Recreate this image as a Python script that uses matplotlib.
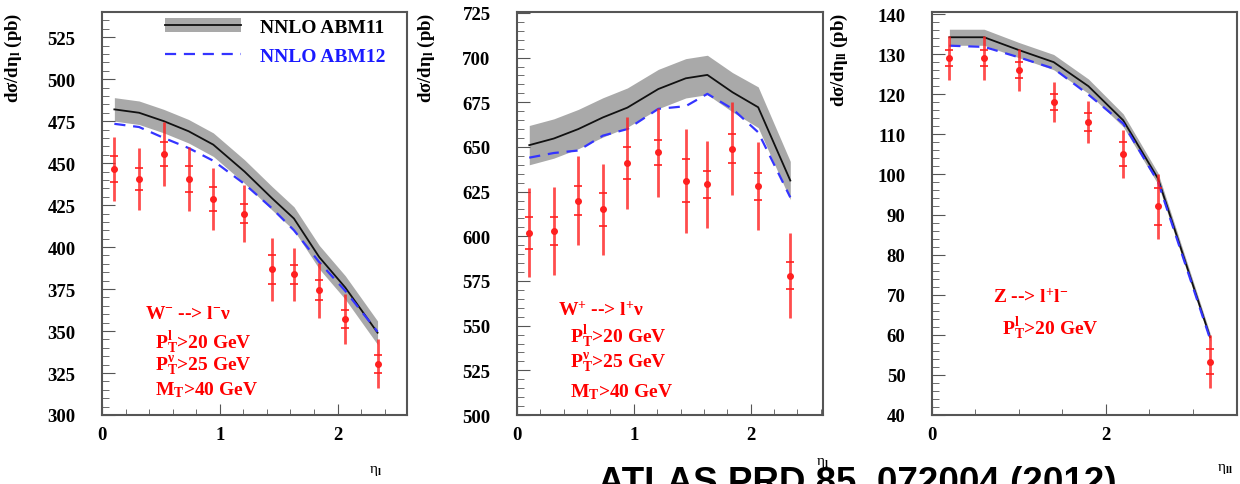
import numpy as np
import matplotlib
matplotlib.use('Agg')
import matplotlib.pyplot as plt
from matplotlib.patches import Patch
from matplotlib.lines import Line2D
from matplotlib.ticker import MultipleLocator

plt.rcParams['font.family'] = 'Liberation Serif'
plt.rcParams['font.weight'] = 'bold'
plt.rcParams['axes.labelweight'] = 'bold'
plt.rcParams['mathtext.fontset'] = 'custom'
plt.rcParams['mathtext.rm'] = 'Liberation Serif:bold'
plt.rcParams['mathtext.it'] = 'Liberation Serif:bold'
plt.rcParams['mathtext.bf'] = 'Liberation Serif:bold'
plt.rcParams['mathtext.default'] = 'rm'

# W- -> l- nu  (lepton pseudorapidity bins)
wm_eta = [0.105, 0.315, 0.525, 0.735, 0.945, 1.21, 1.445, 1.63, 1.845, 2.065, 2.34]
wm_data = [446.5, 440.5, 455.5, 440.5, 428.5, 420, 386.7, 383.7, 374.4, 357, 330.6]
wm_stat = [7.5, 6.7, 7, 7.5, 7.2, 5.5, 8.5, 5.7, 5.9, 5.3, 5.4]
wm_tot = [19, 18.6, 19, 19, 18.3, 17, 19, 16, 16.4, 15, 14.7]
wm_abm11 = [482, 480, 475, 469, 461, 445, 429, 417, 394, 376, 349]
wm_abm11_err = [7, 7, 7, 7, 7, 7, 7, 7, 7, 7, 7]
wm_abm12 = [473.4, 471.5, 465, 459, 451.4, 437.6, 423, 410, 391, 374, 349.6]

# W+ -> l+ nu
wp_eta = [0.105, 0.315, 0.525, 0.735, 0.945, 1.21, 1.445, 1.63, 1.845, 2.065, 2.34]
wp_data = [602, 603, 620, 615, 641, 647, 631, 629, 649, 628, 578]
wp_stat = [9, 8, 8, 9, 9, 7, 12, 7.5, 8, 7.6, 7.6]
wp_tot = [25, 24.7, 24.7, 25.5, 26, 25, 29, 24.5, 26, 24.7, 24]
wp_abm11 = [651, 654.7, 660, 666.5, 672, 682.4, 688.4, 690.3, 680.6, 672.2, 631.2]
wp_abm11_err = [11, 11, 11, 11, 11, 11, 11, 11, 11, 11.4, 10.7]
wp_abm12 = [644, 646.6, 648, 656.3, 660, 671.3, 672.8, 679.7, 671.3, 658.2, 621.8]

# Z -> l+ l-  (boson rapidity bins)
z_eta = [0.2, 0.6, 1.0, 1.4, 1.8, 2.2, 2.6, 3.2]
z_data = [129.1, 129.1, 126, 118, 113, 105, 92, 53.3]
z_stat = [2, 2, 2, 2, 2.2, 3, 4.6, 3.2]
z_tot = [5.5, 5.5, 5.3, 5, 5.2, 6, 8, 6.6]
z_abm11 = [134.2, 134.2, 131, 128, 122, 113.5, 99, 59.4]
z_abm11_err = [2, 2, 1.9, 1.9, 1.8, 1.6, 1.4, 1]
z_abm12 = [132.1, 131.8, 129.2, 126.4, 119.9, 112.7, 98.2, 59]

BAND = '#a9a9a9'
BLUE = '#3434ff'
RED = '#ff2020'


def panel(ax, x, d, st, tot, t11, t11e, t12, ylim, ymaj, ymin, xmax, xmaj, xmin):
    x = np.array(x)
    t11 = np.array(t11)
    t11e = np.array(t11e)
    ax.fill_between(x, t11 - t11e, t11 + t11e, color=BAND, lw=0, zorder=1)
    ax.plot(x, t11, color='#111111', lw=1.3, zorder=2)
    ax.plot(x, t12, color=BLUE, lw=1.6, ls='--', dashes=(5, 3.5), zorder=3)
    ax.errorbar(x, d, yerr=tot, fmt='none', ecolor=RED, elinewidth=2.0,
                capsize=0, zorder=4, alpha=0.8)
    ax.errorbar(x, d, yerr=st, fmt='o', color=RED, ms=4, elinewidth=0,
                ecolor=RED, capsize=3, capthick=1.2, zorder=5)
    ax.set_xlim(0, xmax)
    ax.set_ylim(*ylim)
    ax.xaxis.set_major_locator(MultipleLocator(xmaj))
    ax.xaxis.set_minor_locator(MultipleLocator(xmin))
    ax.yaxis.set_major_locator(MultipleLocator(ymaj))
    ax.yaxis.set_minor_locator(MultipleLocator(ymin))
    ax.tick_params(which='both', direction='in', labelsize=13.5, color='#555555')
    ax.tick_params(axis='y', which='major', length=9, pad=19)
    ax.tick_params(axis='y', which='minor', length=5)
    ax.tick_params(axis='x', which='major', length=8, pad=8)
    ax.tick_params(axis='x', which='minor', length=4)
    for s in ax.spines.values():
        s.set_color('#555555')
        s.set_linewidth(1.5)


fig = plt.figure(figsize=(12.4, 4.85), dpi=100)
bot = 69 / 485
hgt = 403 / 485
ax1 = fig.add_axes([102 / 1240, bot, 305 / 1240, hgt])
ax2 = fig.add_axes([517 / 1240, bot, 306 / 1240, hgt])
ax3 = fig.add_axes([932 / 1240, bot, 305 / 1240, hgt])

panel(ax1, wm_eta, wm_data, wm_stat, wm_tot, wm_abm11, wm_abm11_err, wm_abm12,
      (300, 540), 25, 5, 2.59, 1, 0.2)
panel(ax2, wp_eta, wp_data, wp_stat, wp_tot, wp_abm11, wp_abm11_err, wp_abm12,
      (500, 725.5), 25, 5, 2.62, 1, 0.2)
panel(ax3, z_eta, z_data, z_stat, z_tot, z_abm11, z_abm11_err, z_abm12,
      (40, 140.5), 10, 2, 3.51, 2, 0.5)

# y labels, aligned to top like ROOT
ax1.set_ylabel('dσ/dη$_{l}$ (pb)', fontsize=13.5, fontweight='bold', loc='top')
ax2.set_ylabel('dσ/dη$_{l}$ (pb)', fontsize=13.5, fontweight='bold', loc='top')
ax3.set_ylabel('dσ/dη$_{ll}$ (pb)', fontsize=13.5, fontweight='bold', loc='top')
ax1.yaxis.set_label_coords(-0.255, 1.0)
ax2.yaxis.set_label_coords(-0.262, 1.0)
ax3.yaxis.set_label_coords(-0.268, 1.0)

ax1.set_xlabel('η$_{l}$', fontsize=11, fontweight='normal')
ax2.set_xlabel('η$_{l}$', fontsize=11, fontweight='normal')
ax3.set_xlabel('η$_{ll}$', fontsize=11, fontweight='normal')
ax1.xaxis.set_label_coords(0.895, -0.12)
ax2.xaxis.set_label_coords(0.997, -0.10)
ax3.xaxis.set_label_coords(0.96, -0.115)

# legend
h11 = (Patch(facecolor=BAND, edgecolor='none'), Line2D([], [], color='#111111', lw=1.3))
h12 = Line2D([], [], color=BLUE, lw=1.6, ls='--', dashes=(5, 3.5))
leg = ax1.legend([h11, h12], ['NNLO ABM11', 'NNLO ABM12'], loc='upper right',
                 bbox_to_anchor=(0.93, 0.985), frameon=False, fontsize=14,
                 handlelength=3.9, handleheight=0.75, handletextpad=1.0,
                 labelspacing=0.55, borderpad=0, borderaxespad=0)
leg.get_texts()[0].set_color('black')
leg.get_texts()[1].set_color('#1a1aff')

# process / cut annotations
for ax, lines in [
    (ax1, [(0.141, 0.251, 'W$^{-}$ --> l$^{-}$ν'),
           (0.174, 0.181, 'P$_{T}^{l}$>20 GeV'),
           (0.174, 0.122, 'P$_{T}^{ν}$>25 GeV'),
           (0.174, 0.063, 'M$_{T}$>40 GeV')]),
    (ax2, [(0.134, 0.263, 'W$^{+}$ --> l$^{+}$ν'),
           (0.173, 0.196, 'P$_{T}^{l}$>20 GeV'),
           (0.173, 0.131, 'P$_{T}^{ν}$>25 GeV'),
           (0.173, 0.060, 'M$_{T}$>40 GeV')]),
    (ax3, [(0.20, 0.295, 'Z --> l$^{+}$l$^{-}$'),
           (0.23, 0.216, 'P$_{T}^{l}$>20 GeV')]),
]:
    for x, y, s in lines:
        ax.text(x, y, s, color='red', fontsize=14, va='center', ha='left',
                transform=ax.transAxes)

fig.text(598 / 1240, 1 - 466 / 485, 'ATLAS PRD 85, 072004 (2012)',
         family='Liberation Sans', fontweight='bold', fontsize=26.5,
         va='top', ha='left')

fig.savefig('out.png', dpi=100, facecolor='white')
